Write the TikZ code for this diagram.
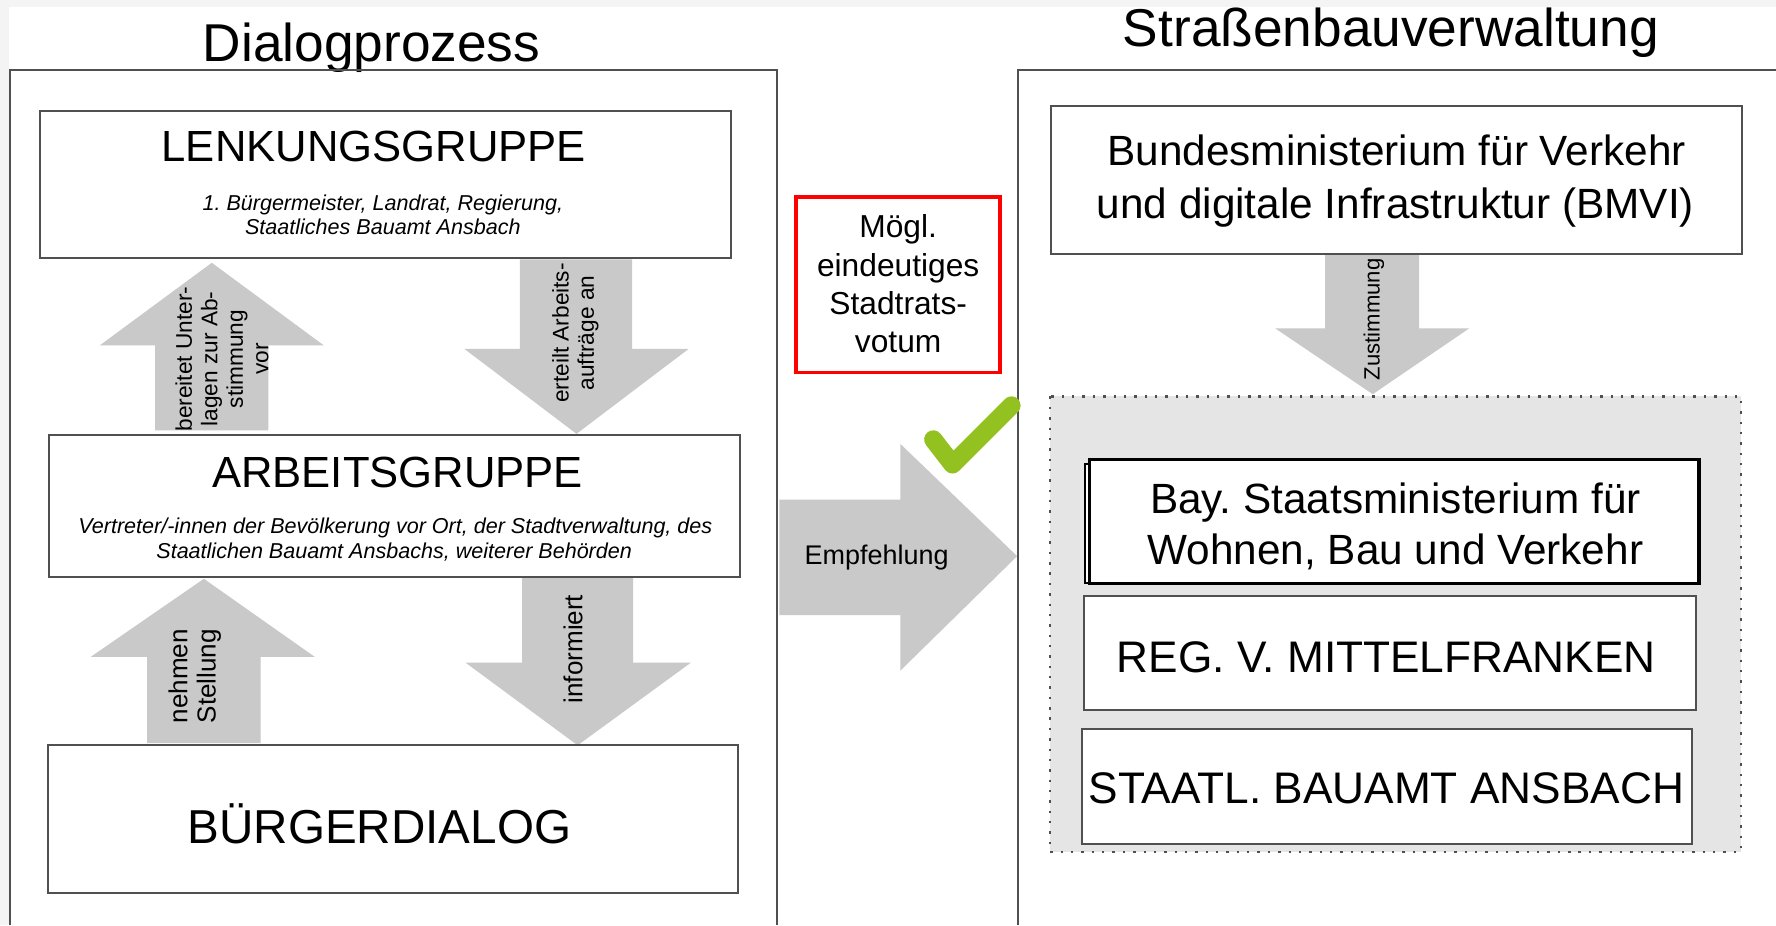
\documentclass[tikz,border=0pt]{standalone}
\usepackage{fontspec}
\setmainfont{Liberation Sans}
\frenchspacing
\definecolor{bggray}{HTML}{F4F4F4}
\definecolor{arrowgray}{HTML}{C9C9C9}
\definecolor{regiongray}{HTML}{E5E5E5}
\definecolor{linegray}{HTML}{505050}
\definecolor{checkgreen}{HTML}{93C11F}
\newcommand\fTitle{\fontsize{13.37pt}{16pt}\selectfont}
\newcommand\fGroup{\fontsize{10.95pt}{13pt}\selectfont}
\newcommand\fBuerger{\fontsize{11.95pt}{14pt}\selectfont}
\newcommand\fItal{\fontsize{5.41pt}{6pt}\selectfont\itshape}
\newcommand\fBig{\fontsize{10.62pt}{13pt}\selectfont}
\newcommand\fCaps{\fontsize{11.1pt}{13pt}\selectfont}
\newcommand\fRed{\fontsize{7.97pt}{9.6pt}\selectfont}
\newcommand\fEmpf{\fontsize{6.77pt}{8pt}\selectfont}
\newcommand\fRotS{\fontsize{5.69pt}{6.4pt}\selectfont}
\newcommand\fRotM{\fontsize{6.54pt}{7.1pt}\selectfont}
\newcommand\fZust{\fontsize{5.55pt}{6.4pt}\selectfont}
\begin{document}
\frenchspacing
\begin{tikzpicture}[x=0.01cm,y=-0.01cm,
  boxline/.style={draw=linegray,line width=0.5pt,fill=white},
  outerline/.style={draw=linegray,line width=0.5pt},
  garrow/.style={fill=arrowgray,draw=none},
  txt/.style={anchor=base,inner sep=0pt},
  rottxt/.style={rotate=90,align=center,inner sep=0pt}]
\useasboundingbox (0,0) rectangle (1568,817);
\fill[bggray] (0,0) rectangle (1568,817);
\fill[white] (8,6) rectangle (1568,817);

% titles
\node[txt,font=\fTitle] (tdialog) at (328,54) {Dialogprozess};
\node[txt,font=\fTitle] (tstrasse) at (1228,41) {Straßenbauverwaltung};

% outer frames
\draw[outerline] (9,817) -- (9,62) -- (686,62) -- (686,817);
\draw[outerline] (899,817) -- (899,62) -- (1568,62);

% block arrows (left column)
\fill[garrow] (137,380) -- (137,305) -- (88,305) -- (187,232) -- (286,305) -- (237,305) -- (237,380) -- cycle;
\fill[garrow] (459,229) -- (459,308) -- (410,308) -- (509,383) -- (608,308) -- (558,308) -- (558,229) -- cycle;
\fill[garrow] (130,656) -- (130,580) -- (80,580) -- (180,511) -- (278,580) -- (230,580) -- (230,656) -- cycle;
\fill[garrow] (461,510) -- (461,585) -- (411,585) -- (510,658) -- (610,585) -- (559,585) -- (559,510) -- cycle;
% Empfehlung arrow
\fill[garrow] (688,441) -- (795,441) -- (795,392) -- (898,491) -- (795,592) -- (795,543) -- (688,543) -- cycle;
% Zustimmung arrow
\fill[garrow] (1170,225) -- (1170,290) -- (1126,290) -- (1212,348) -- (1297,290) -- (1253,290) -- (1253,225) -- cycle;

% left boxes
\draw[boxline] (35,98) rectangle (645,228);
\node[txt,font=\fGroup] (lenk) at (330,143) {LENKUNGSGRUPPE};
\node[txt,font=\fItal] (lenk1) at (338,186) {1. Bürgermeister, Landrat, Regierung,};
\node[txt,font=\fItal] (lenk2) at (338,207) {Staatliches Bauamt Ansbach};

\draw[boxline] (43,384) rectangle (653,509);
\node[txt,font=\fGroup] (arb) at (351,430) {ARBEITSGRUPPE};
\node[txt,font=\fItal] (arb1) at (349,471) {Vertreter/-innen der Bevölkerung vor Ort, der Stadtverwaltung, des};
\node[txt,font=\fItal] (arb2) at (348,493) {Staatlichen Bauamt Ansbachs, weiterer Behörden};

\draw[boxline] (42,658) rectangle (652,788);
\node[txt,font=\fBuerger] (buerger) at (335,745) {BÜRGERDIALOG};

% arrow labels
\node[rottxt,font=\fRotS] (lbup1) at (196,317) {bereitet Unter-\\lagen zur Ab-\\stimmung\\vor};
\node[rottxt,font=\fRotS] (lbdn1) at (508,294) {erteilt Arbeits-\\aufträge an};
\node[rottxt,font=\fRotM] (lbup2) at (172,597) {nehmen\\Stellung};
\node[rottxt,font=\fRotM] (lbdn2) at (506,573) {informiert};
\node[rottxt,font=\fZust] (lbzu) at (1213,282) {Zustimmung};
\node[txt,font=\fEmpf] (empf) at (774,498) {Empfehlung};

% red box
\draw[red,line width=0.9pt] (703,174) rectangle (883,329);
\node[txt,font=\fRed] (r1) at (793,210) {Mögl.};
\node[txt,font=\fRed] (r2) at (793,244) {eindeutiges};
\node[txt,font=\fRed] (r3) at (793,278) {Stadtrats-};
\node[txt,font=\fRed] (r4) at (793,311) {votum};

% check mark
\draw[checkgreen,line width=4.6pt,line cap=round,line join=round] (824,388) -- (841,410) -- (893,358);

% right side
\draw[boxline] (928,94) rectangle (1538,224);
\node[txt,font=\fBig] (bmvi1) at (1233,146) {Bundesministerium für Verkehr};
\node[txt,font=\fBig] (bmvi2) at (1232,193) {und digitale Infrastruktur (BMVI)};

\draw[fill=regiongray,draw=linegray,line width=0.6pt,dotted] (927,350) rectangle (1537,752);

\draw[fill=white,draw=black,line width=0.5pt] (958,410) rectangle (1496,515);
\draw[fill=white,draw=black,line width=0.8pt] (962,406) rectangle (1500,515);
\node[txt,font=\fBig] (bay1) at (1232,453) {Bay. Staatsministerium für};
\node[txt,font=\fBig] (bay2) at (1232,498) {Wohnen, Bau und Verkehr};

\draw[boxline] (957,526) rectangle (1497,627);
\node[txt,font=\fCaps] (reg) at (1224,594) {REG. V. MITTELFRANKEN};

\draw[boxline] (955,644) rectangle (1494,745);
\node[txt,font=\fCaps] (staatl) at (1224,709) {STAATL. BAUAMT ANSBACH};
\end{tikzpicture}
\end{document}
